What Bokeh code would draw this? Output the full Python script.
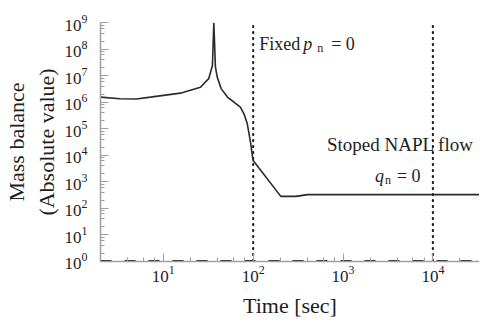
from bokeh.plotting import figure
from bokeh.models import FixedTicker, LogTickFormatter, Label, Range1d
from bokeh.embed import file_html
from bokeh.resources import INLINE

# ---- data ----
time_s = [2, 3.3, 5, 7.2, 15.5, 25.9, 32, 35.2, 36.5, 38, 39.8, 44, 52, 61, 72, 79,
          86, 94, 99.5, 203, 299, 403, 33000]
mass_balance = [1.53e6, 1.33e6, 1.3e6, 1.53e6, 2.16e6, 3.6e6, 7.6e6, 2.4e7, 9.8e8,
                2.1e7, 8.7e6, 3.2e6, 1.5e6, 1.0e6, 6.4e5, 3.6e5, 1.5e5, 2.7e4, 6.3e3,
                275, 275, 320, 320]
water_time = [2, 33000]
water_balance = [1, 1]

event_times = [100, 10000]          # fixed p_n = 0, stopped NAPL flow
x_range = (2, 33000)
y_range = (0.96, 1e9)
y_ticks = [10 ** k for k in range(10)]
x_ticks = [10 ** k for k in (1, 2, 3, 4)]
x_minor = [m * t for t in [1] + x_ticks for m in (2, 4, 6, 8)]
y_minor = [m * t for t in y_ticks for m in (2, 4, 6, 8)]

FONT = "Liberation Serif"
AXIS_GRAY = "#a0a0a0"
INK = "#1e1e1e"

p = figure(frame_width=379, frame_height=239, x_axis_type="log", y_axis_type="log",
           x_range=Range1d(*x_range), y_range=Range1d(*y_range),
           output_backend="svg", toolbar_location=None,
           min_border_left=92, min_border_top=22, min_border_right=0,
           min_border_bottom=0)
p.outline_line_color = None
p.xgrid.visible = False
p.ygrid.visible = False
p.background_fill_color = "white"
p.border_fill_color = "white"

p.yaxis.ticker = FixedTicker(ticks=y_ticks, minor_ticks=y_minor)
p.xaxis.ticker = FixedTicker(ticks=x_ticks, minor_ticks=x_minor)
p.xaxis.formatter = LogTickFormatter()
p.yaxis.formatter = LogTickFormatter()

for ax in (p.xaxis, p.yaxis):
    ax.axis_line_color = AXIS_GRAY
    ax.axis_line_width = 1.5
    ax.major_tick_line_color = AXIS_GRAY
    ax.minor_tick_line_color = AXIS_GRAY
    ax.major_tick_in = 8
    ax.major_tick_out = 0
    ax.minor_tick_in = 4
    ax.minor_tick_out = 0
    ax.major_label_text_font = FONT
    ax.major_label_text_font_size = "17px"
    ax.major_label_text_color = INK
    ax.axis_label_text_font = FONT
    ax.axis_label_text_font_size = "22px"
    ax.axis_label_text_font_style = "normal"
    ax.axis_label_text_color = INK

p.yaxis.major_label_standoff = 13
p.xaxis.major_label_standoff = 4
p.yaxis.axis_label = "Mass balance\n(Absolute value)"
p.xaxis.axis_label = "Time [sec]"
p.yaxis.axis_label_standoff = 3
p.xaxis.axis_label_standoff = 8

# event lines
for t in event_times:
    p.line([t, t], [y_ticks[0], y_ticks[-1]], line_color=INK, line_width=2.2,
           line_dash="1 5", line_cap="round")

# curves
p.line(water_time, water_balance, line_color=INK, line_width=2, line_dash="11 13")
p.line(time_s, mass_balance, line_color="#2a2a2a", line_width=1.6)

def lab(x, dy, dx, text, size="18px", style="normal"):
    p.add_layout(Label(x=x, y=y_ticks[-1], x_offset=dx, y_offset=dy, text=text,
                       text_font=FONT, text_font_size=size, text_font_style=style,
                       text_color=INK, text_baseline="alphabetic"))

t1, t2 = event_times
lab(t1, -21, 6, "Fixed")
lab(t1, -21, 50, "p", style="italic")
lab(t1, -25, 64, "n", size="12px")
lab(t1, -21, 78, "= 0")
lab(t2, -122, -106, "Stoped NAPL flow", size="19px")
lab(t2, -153, -58, "q", style="italic")
lab(t2, -157, -48, "n", size="12px")
lab(t2, -153, -36, "= 0")

open("out.html", "w").write(file_html(p, INLINE))
